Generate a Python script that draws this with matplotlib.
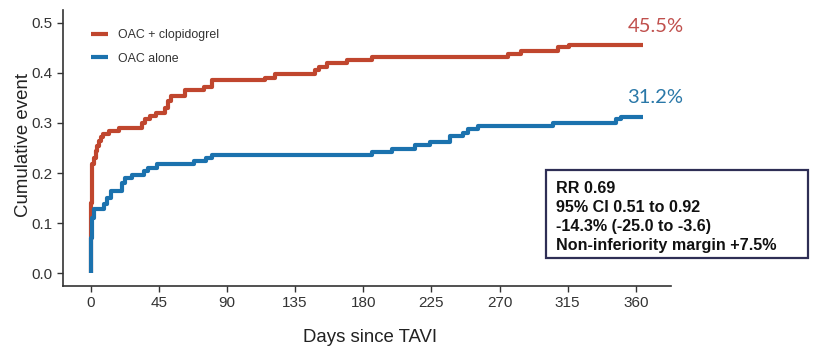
import matplotlib
matplotlib.use("Agg")
import matplotlib.pyplot as plt
from matplotlib.patches import Rectangle

# data (day, cumulative event), step changes
days_clopi = [0, 0, 0.6, 1.2, 2.2, 3.3, 4.4, 5.5, 6.6, 8, 12, 18.5, 34, 36, 39.5, 43,
              49, 51, 53, 62.6, 74.6, 80, 115, 122, 148, 151, 156, 169, 185.5,
              275.6, 284.4, 308.5, 316, 365]
event_clopi = [0, 0.14, 0.20, 0.218, 0.231, 0.244, 0.254, 0.264, 0.271, 0.277, 0.284,
               0.289, 0.30, 0.307, 0.313, 0.32, 0.33, 0.343, 0.353, 0.366, 0.371,
               0.385, 0.39, 0.398, 0.405, 0.412, 0.419, 0.426, 0.432, 0.438, 0.444,
               0.451, 0.455, 0.455]

days_alone = [0, 0.4, 1.0, 2.0, 9, 11, 13.2, 15.4, 20.9, 23, 27.5, 35, 38, 44, 68,
              76, 80, 185.5, 198.7, 214, 224, 237, 246, 249, 255.6, 305, 347, 350, 365]
event_alone = [0, 0.07, 0.11, 0.128, 0.138, 0.151, 0.165, 0.165, 0.181, 0.191, 0.197,
               0.204, 0.211, 0.2175, 0.224, 0.231, 0.236, 0.243, 0.249, 0.256, 0.2625,
               0.274, 0.28, 0.287, 0.2935, 0.300, 0.307, 0.312, 0.312]

series_names = ["OAC + clopidogrel", "OAC alone"]
end_labels = ["45.5%", "31.2%"]
x_ticks = [0, 45, 90, 135, 180, 225, 270, 315, 360]
y_ticks = [0.0, 0.1, 0.2, 0.3, 0.4, 0.5]
box_lines = ["RR 0.69", "95% CI 0.51 to 0.92", "-14.3% (-25.0 to -3.6)",
             "Non-inferiority margin +7.5%"]

red = "#C0462E"
blue = "#1B72AE"

plt.rcParams["font.family"] = ["Liberation Sans", "DejaVu Sans"]

fig = plt.figure(figsize=(8.2, 3.51), dpi=100)
ax = fig.add_axes([63 / 820, 1 - 286 / 351, 608 / 820, 276 / 351])

ax.step(days_clopi, event_clopi, where="post", color=red, lw=3, label=series_names[0],
        solid_capstyle="butt")
ax.step(days_alone, event_alone, where="post", color=blue, lw=3, label=series_names[1],
        solid_capstyle="butt")

ax.set_xlim(-18.25, 383.25)
ax.set_ylim(-0.025, 0.525)
ax.set_xticks(x_ticks)
ax.set_yticks(y_ticks)
ax.set_yticklabels([f"{v:.1f}" for v in y_ticks])
ax.tick_params(labelsize=11, labelcolor="#333333", color="#333333", length=4, width=1)
for s in ["top", "right"]:
    ax.spines[s].set_visible(False)
for s in ["left", "bottom"]:
    ax.spines[s].set_color("#333333")
    ax.spines[s].set_linewidth(1.2)

fig.text(24 / 820, 1 - 145 / 351, "Cumulative event", rotation=90, fontsize=13.4,
         ha="center", va="center", color="#222222")
fig.text(370 / 820, 1 - 338 / 351, "Days since TAVI", fontsize=13.4,
         ha="center", va="center", color="#222222")

leg = ax.legend(loc="upper left", bbox_to_anchor=(91 / 820, 1 - 29 / 351),
                bbox_transform=fig.transFigure, frameon=False, fontsize=8.9,
                handlelength=1.4, handletextpad=0.8, labelspacing=0.95,
                borderpad=0, borderaxespad=0)
for t in leg.get_texts():
    t.set_color("#333333")

ax.text(373, 0.492, end_labels[0], color="#C0504D", fontsize=14.5, family="Lato",
        ha="center", va="center", clip_on=False)
ax.text(373, 0.351, end_labels[1], color="#2A78A8", fontsize=14.5, family="Lato",
        ha="center", va="center", clip_on=False)

fig.patches.append(Rectangle((546 / 820, 1 - 258 / 351), 262 / 820, 88 / 351,
                             transform=fig.transFigure, fill=False,
                             edgecolor="#2E2E55", lw=1.6))
fig.text(556 / 820, 1 - 217 / 351, "\n".join(box_lines), fontsize=11.6,
         fontweight="bold", ha="left", va="center", linespacing=1.31, color="#111111")

fig.savefig("out.png", dpi=100)
